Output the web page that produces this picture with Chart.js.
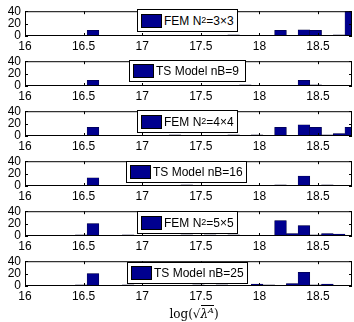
<!DOCTYPE html>
<html>
<head>
<meta charset="utf-8">
<script src="https://cdn.jsdelivr.net/npm/chart.js@4.4.0/dist/chart.umd.min.js"></script>
<style>
body { margin: 0; background: #fff; width: 354px; height: 322px; overflow: hidden; position: relative; font-family: "Liberation Sans", Arial, sans-serif; }
canvas { position: absolute; left: 0; }
.leg { position: absolute; border: 1px solid #000; background: #fff; font-size: 12px; white-space: nowrap; box-sizing: border-box; display: flex; align-items: center; }
.leg .sw { width: 21px; height: 14px; background: #00008f; border: 1px solid #000; box-sizing: border-box; margin: 0 2px 0 3px; flex: none; }
.leg sup { font-size: 9px; line-height: 0; position: relative; top: -1px; }
.xlab { position: absolute; left: 0; width: 388px; top: 304px; text-align: center; font-family: "DejaVu Serif", "Liberation Serif", serif; font-size: 12px; }
.xlab i { font-style: italic; }
.xlab .ov { border-top: 1px solid #000; padding-top: 1px; }
</style>
</head>
<body>
<canvas id="c0" width="354" height="56" style="top:0px"></canvas>
<canvas id="c1" width="354" height="56" style="top:50px"></canvas>
<canvas id="c2" width="354" height="56" style="top:100px"></canvas>
<canvas id="c3" width="354" height="56" style="top:150px"></canvas>
<canvas id="c4" width="354" height="56" style="top:200px"></canvas>
<canvas id="c5" width="354" height="56" style="top:250px"></canvas>

<div class="leg" style="left:137px;top:9px;width:101px;height:23px"><div class="sw"></div>FEM N<sup>2</sup>=3×3</div>
<div class="leg" style="left:129px;top:60px;width:117px;height:22px"><div class="sw"></div>TS Model nB=9</div>
<div class="leg" style="left:137px;top:110px;width:101px;height:23px"><div class="sw"></div>FEM N<sup>2</sup>=4×4</div>
<div class="leg" style="left:126px;top:161px;width:121px;height:22px"><div class="sw"></div>TS Model nB=16</div>
<div class="leg" style="left:137px;top:211px;width:101px;height:23px"><div class="sw"></div>FEM N<sup>2</sup>=5×5</div>
<div class="leg" style="left:127px;top:262px;width:121px;height:22px"><div class="sw"></div>TS Model nB=25</div>

<div class="xlab">log(√<span class="ov"><i>λ</i><sup><i style="font-size:8px">A</i></sup></span>)</div>

<script>
// histogram bin centres (bin width 0.1)
const binCenters = [16.08, 16.18, 16.28, 16.38, 16.48, 16.58, 16.68, 16.78, 16.88, 16.98,
                    17.08, 17.18, 17.28, 17.38, 17.48, 17.58, 17.68, 17.78, 17.88, 17.98,
                    18.08, 18.18, 18.28, 18.38, 18.48, 18.58, 18.68, 18.78];

// counts per bin, one array per panel
const fem3x3 = [0, 0, 0, 0, 0, 9, 0, 0, 0, 0, 0, 1, 0, 0, 0, 0, 0, 2, 0, 0, 0, 9, 0, 10, 9, 1, 2, 40];
const tsNb9  = [0, 0, 0, 0, 0, 9, 0, 0, 0, 0, 0, 1, 0, 0, 0, 0, 0, 0, 2, 0, 0, 0, 1, 9, 2, 0, 0, 0];
const fem4x4 = [0, 0, 0, 0, 1, 14, 1, 0, 0, 0, 0, 0, 2, 0, 0, 0, 1, 2, 0, 2, 0, 14, 0, 18, 14, 2, 4, 14];
const tsNb16 = [0, 0, 0, 0, 1, 13, 1, 0, 0, 0, 0, 0, 0, 2, 0, 0, 0, 1, 1, 1, 0, 2, 0, 16, 0, 2, 0, 0];
const fem5x5 = [0, 1, 0, 0, 2, 20, 0, 0, 2, 0, 0, 0, 1, 2, 0, 2, 0, 2, 0, 1, 0, 25, 4, 17, 2, 4, 3, 0];
const tsNb25 = [0, 1, 0, 0, 2, 20, 0, 0, 2, 0, 0, 0, 1, 0, 2, 0, 2, 0, 0, 3, 2, 0, 4, 22, 2, 3, 0, 0];

const xTicks = [16, 16.5, 17, 17.5, 18, 18.5];
const yTicks = [0, 20, 40];

const panels = [fem3x3, tsNb9, fem4x4, tsNb16, fem5x5, tsNb25];
const fontFamily = '"Liberation Sans", Arial, sans-serif';

// MATLAB style box with inward ticks
const boxPlugin = {
    id: 'box',
    afterDraw(chart) {
        const { ctx, chartArea: a, scales } = chart;
        ctx.save();
        ctx.strokeStyle = '#000';
        ctx.lineWidth = 1;
        ctx.strokeRect(a.left + 0.5, a.top + 0.5, a.right - a.left - 1, a.bottom - a.top - 1);
        ctx.beginPath();
        scales.x.ticks.forEach(t => {
            const px = Math.round(scales.x.getPixelForValue(t.value)) + 0.5;
            ctx.moveTo(px, a.bottom); ctx.lineTo(px, a.bottom - 3);
            ctx.moveTo(px, a.top); ctx.lineTo(px, a.top + 3);
        });
        scales.y.ticks.forEach(t => {
            const py = Math.round(scales.y.getPixelForValue(t.value)) + 0.5;
            ctx.moveTo(a.left, py); ctx.lineTo(a.left + 3, py);
            ctx.moveTo(a.right, py); ctx.lineTo(a.right - 3, py);
        });
        ctx.stroke();
        ctx.restore();
    }
};

panels.forEach((counts, i) => {
    const ctx = document.getElementById('c' + i).getContext('2d');
    new Chart(ctx, {
        type: 'bar',
        data: {
            datasets: [{
                data: binCenters.map((x, k) => ({ x: x, y: counts[k] })),
                backgroundColor: '#00008f',
                borderColor: '#000033',
                borderWidth: 0.5,
                borderSkipped: 'start',
                barPercentage: 1,
                categoryPercentage: 1
            }]
        },
        options: {
            responsive: false,
            animation: false,
            devicePixelRatio: 1,
            layout: { padding: { top: 6, right: 2, left: 0, bottom: 0 } },
            plugins: { legend: { display: false }, tooltip: { enabled: false } },
            scales: {
                x: {
                    type: 'linear', min: 16, max: 18.79, offset: false,
                    grid: { display: false, drawTicks: false }, border: { display: false },
                    ticks: { color: '#000', font: { size: 12, family: fontFamily }, padding: 3, maxRotation: 0, autoSkip: false, callback: v => v },
                    afterBuildTicks: s => { s.ticks = xTicks.map(v => ({ value: v })); },
                    afterFit: s => { s.height = 20; }
                },
                y: {
                    min: 0, max: 40,
                    grid: { display: false, drawTicks: false }, border: { display: false },
                    ticks: { color: '#000', font: { size: 12, family: fontFamily }, padding: 4, autoSkip: false },
                    afterBuildTicks: s => { s.ticks = yTicks.map(v => ({ value: v })); },
                    afterFit: s => { s.width = 25; }
                }
            }
        },
        plugins: [boxPlugin]
    });
});
</script>
</body>
</html>
